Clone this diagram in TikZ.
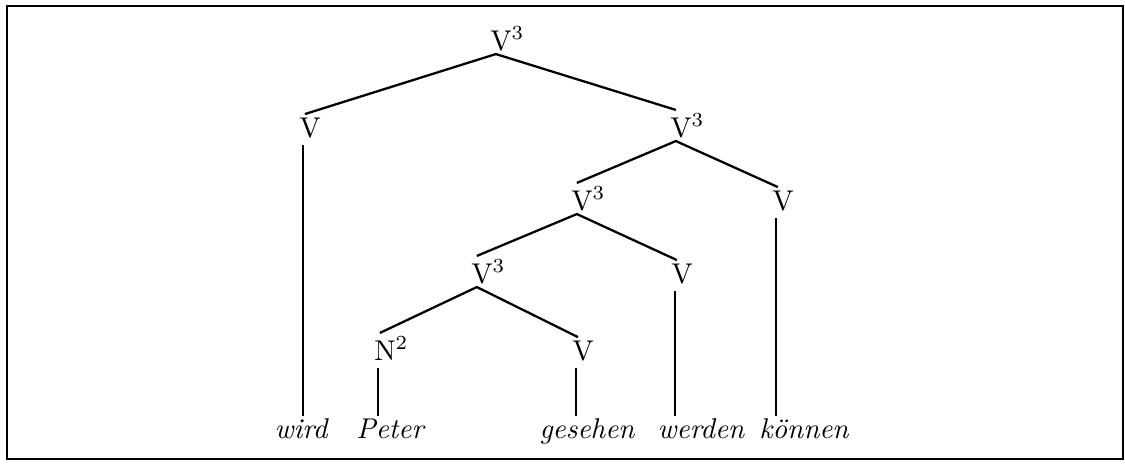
\documentclass[tikz,border=0pt]{standalone}
\usepackage{fontspec}
\begin{document}
\begin{tikzpicture}[x=0.35pt,y=-0.35pt,
  lab/.style={inner sep=1pt,anchor=base},
  word/.style={inner sep=0.5pt,anchor=base,font=\itshape},
  br/.style={line width=0.8pt},
  stem/.style={line width=0.8pt,shorten <=1.5pt}]
\useasboundingbox (0,0) rectangle (1125,463);
\draw[line width=1pt] (7,6) rectangle (1123,459);
% category labels
\node[lab] (r) at (501,50)  {V\rlap{\textsuperscript{3}}};
\node[lab] (a) at (310,137) {V};
\node[lab] (b) at (681,137) {V\rlap{\textsuperscript{3}}};
\node[lab] (c) at (582,210) {V\rlap{\textsuperscript{3}}};
\node[lab] (d) at (783,210) {V};
\node[lab] (e) at (482,283) {V\rlap{\textsuperscript{3}}};
\node[lab] (f) at (682,283) {V};
\node[lab] (g) at (385,360) {N\rlap{\textsuperscript{2}}};
\node[lab] (h) at (583,360) {V};
% words
\node[word] (w1) at (301,438) {wird};
\node[word] (w2) at (390,438) {Peter};
\node[word] (w3) at (587,438) {gesehen};
\node[word] (w4) at (701,438) {werden};
\node[word] (w5) at (804,438) {können};
% branches
\draw[br] ([xshift=-1.8pt]a.north) -- ([xshift=-1.8pt]r.south) -- ([xshift=-1.8pt]b.north);
\draw[br] ([xshift=-1.8pt]c.north) -- ([xshift=-1.8pt]b.south) -- ([xshift=-1.8pt]d.north);
\draw[br] ([xshift=-1.8pt]e.north) -- ([xshift=-1.8pt]c.south) -- ([xshift=-1.8pt]f.north);
\draw[br] ([xshift=-1.8pt]g.north) -- ([xshift=-1.8pt]e.south) -- ([xshift=-1.8pt]h.north);
% stems
\draw[stem] ([xshift=-2.5pt]a.south) -- ([xshift=-2.5pt]a.south |- w1.north);
\draw[stem] ([xshift=-2.5pt]g.south) -- ([xshift=-2.5pt]g.south |- w2.north);
\draw[stem] ([xshift=-2.5pt]h.south) -- ([xshift=-2.5pt]h.south |- w3.north);
\draw[stem] ([xshift=-2.5pt]f.south) -- ([xshift=-2.5pt]f.south |- w4.north);
\draw[stem] ([xshift=-2.5pt]d.south) -- ([xshift=-2.5pt]d.south |- w5.north);
\end{tikzpicture}
\end{document}
